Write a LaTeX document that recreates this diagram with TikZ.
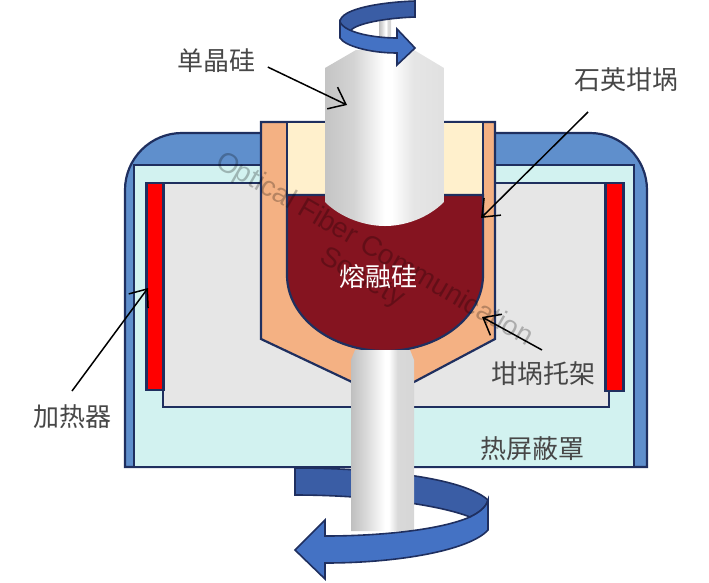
\documentclass[tikz,border=0pt]{standalone}
\usepackage{fontspec}
\setmainfont{Liberation Sans}
\newfontfamily\cjk{Noto Sans CJK SC}
\usetikzlibrary{arrows.meta}
\definecolor{navy}{HTML}{1F2F5F}
\definecolor{capblue}{HTML}{5F8FCC}
\definecolor{shieldc}{HTML}{D2F2F0}
\definecolor{chamber}{HTML}{E6E6E6}
\definecolor{holder}{HTML}{F4B183}
\definecolor{creamc}{HTML}{FFF0CC}
\definecolor{melt}{HTML}{851420}
\definecolor{bandback}{HTML}{3A5DA5}
\definecolor{bandfront}{HTML}{4472C4}
\pgfdeclarehorizontalshading{crystalshade}{100bp}{color(0bp)=(black!23);color(25bp)=(black!23);color(37bp)=(black!17);color(50bp)=(white);color(53bp)=(white);color(62bp)=(black!10);color(75bp)=(black!12);color(100bp)=(black!12)}
\pgfdeclarehorizontalshading{rodshade}{100bp}{color(0bp)=(black!25);color(25bp)=(black!25);color(38bp)=(black!14);color(52bp)=(white);color(55bp)=(white);color(62bp)=(black!15);color(75bp)=(black!16);color(100bp)=(black!16)}
\tikzset{
  part/.style={draw=navy,line width=2.2pt,line join=miter},
  band/.style={draw=navy,line width=1.6pt,line join=miter},
  lbl/.style={font=\cjk\fontsize{26}{26}\selectfont,text=black!72,inner sep=0pt},
  pointer/.style={draw=black,line width=1.5pt,-{Straight Barb[length=15pt,width=24pt,line width=1.5pt]}},
  mark text/.style={font=\fontsize{28}{28}\selectfont,text=black,opacity=.25,rotate=-30,inner sep=0pt}
}
\begin{document}
\begin{tikzpicture}[x=1pt,y=-1pt]
\useasboundingbox (0,0) rectangle (709,582);
% housing
\path[part,fill=capblue] (125,467) -- (125,190) arc[start angle=180,end angle=270,radius=57] -- (590,133) arc[start angle=270,end angle=360,radius=57] -- (647,467) -- cycle;
\path[part,fill=shieldc] (134,467) rectangle (634,165);
\path[part,fill=chamber] (163,407) rectangle (609,183);
\node[part,fill=red,minimum width=17pt,minimum height=207pt,inner sep=0pt] (heatL) at (155,286.5) {};
\node[part,fill=red,minimum width=18pt,minimum height=208pt,inner sep=0pt] (heatR) at (614.5,287) {};
% crucible holder
\path[part,fill=holder] (261,122) -- (261,339) -- (352,382) -- (414,382) -- (495,339) -- (495,122) -- cycle;
\path[part,fill=creamc] (287,122) rectangle (483,200);
\path[part,fill=melt] (287,195) -- (483,195) -- (483,275) arc[start angle=0,end angle=180,x radius=98,y radius=76] -- cycle;
% watermark
\node[mark text] (markA) at (374,250) {Optical Fiber Communication};
\node[mark text] (markB) at (362,278) {Society};
% lower ribbon, back
\path[band,fill=bandback] (295,468) .. controls (360,468) and (460,475) .. (488,500) .. controls (486,508) and (478,513) .. (470,517) .. controls (440,505) and (370,495) .. (295,495) -- cycle;
% rods
\path[shading=rodshade] (351,531) -- (351,360) -- (355,350) -- (410,350) -- (414,360) -- (414,531) -- cycle;
\path[shading=rodshade] (379,50) rectangle (391,20);
\path[shading=crystalshade] (325,202) -- (325,68) -- (356,50) -- (414,50) -- (444,68) -- (444,202) .. controls (428,218) and (405,226) .. (385,226) .. controls (365,226) and (341,218) .. (325,202) -- cycle;
% lower ribbon, front
\path[band,fill=bandfront] (488,500) -- (488,530) .. controls (470,550) and (400,563) .. (325,563) -- (325,579) -- (295,550) -- (325,520) -- (325,536) .. controls (380,536) and (440,530) .. (470,517) .. controls (478,513) and (486,508) .. (488,500) -- cycle;
% upper ribbon
\path[band,fill=bandback] (415,1) .. controls (385,2) and (340,8) .. (340,22) .. controls (342,28) and (345,30) .. (350,32) .. controls (352,24) and (385,18) .. (415,17) -- cycle;
\path[band,fill=bandfront] (340,22) -- (340,38) .. controls (345,46) and (370,53) .. (397,53) -- (397,65) -- (415,48) -- (397,29) -- (397,38) .. controls (375,38) and (345,33) .. (340,22) -- cycle;
% labels
\node[lbl] (single) at (216,61) {单晶硅};
\node[lbl] (quartz) at (626,80) {石英坩埚};
\node[lbl,text=white] (molten) at (378,277) {熔融硅};
\node[lbl] (bracket) at (543,374) {坩埚托架};
\node[lbl] (heater) at (72,417) {加热器};
\node[lbl] (shieldl) at (532,449) {热屏蔽罩};
% pointers
\coordinate (tSingle) at (347,105);
\coordinate (tQuartz) at (481,218);
\coordinate (tBracket) at (482,317);
\coordinate (tHeater) at (148,288);
\coordinate (sQuartz) at (588,112);
\coordinate (sBracket) at (542,350);
\coordinate (sHeater) at (72,391);
\draw[pointer,shorten <=14pt] (single.east) -- (tSingle);
\draw[pointer] (sQuartz) -- (tQuartz);
\draw[pointer] (sBracket) -- (tBracket);
\draw[pointer] (sHeater) -- (tHeater);
\end{tikzpicture}
\end{document}
